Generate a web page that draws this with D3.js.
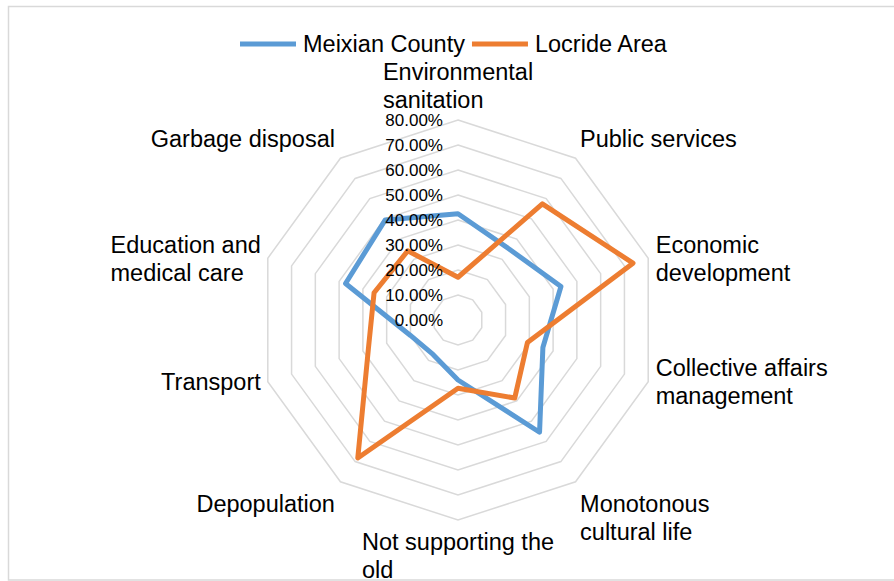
<!DOCTYPE html>
<html>
<head>
<meta charset="utf-8">
<script src="https://cdn.jsdelivr.net/npm/d3@7/dist/d3.min.js"></script>
<style>
  html, body { margin: 0; padding: 0; background: #fff; }
  svg { display: block; font-family: "Liberation Sans", Arial, sans-serif; }
</style>
</head>
<body>
<svg id="chart" width="894" height="581"></svg>
<script>
// Axis categories, clockwise from the top
const categories = [
  "Environmental sanitation",
  "Public services",
  "Economic development",
  "Collective affairs management",
  "Monotonous cultural life",
  "Not supporting the old",
  "Depopulation",
  "Transport",
  "Education and medical care",
  "Garbage disposal"
];

// Line breaks used for the category labels
const categoryLines = [
  ["Environmental", "sanitation"],
  ["Public services"],
  ["Economic", "development"],
  ["Collective affairs", "management"],
  ["Monotonous", "cultural life"],
  ["Not supporting the", "old"],
  ["Depopulation"],
  ["Transport"],
  ["Education and", "medical care"],
  ["Garbage disposal"]
];

const seriesNames = ["Meixian County", "Locride Area"];
const meixianValues = [0.425, 0.35, 0.433, 0.357, 0.555, 0.24, 0.17, 0.20, 0.473, 0.495];
const locrideValues = [0.171, 0.574, 0.736, 0.292, 0.386, 0.273, 0.682, 0.377, 0.353, 0.342];
const tickValues = [0, 0.1, 0.2, 0.3, 0.4, 0.5, 0.6, 0.7, 0.8];
const seriesColors = ["#5B9BD5", "#ED7D31"];

const svg = d3.select("#chart");
const cx = 458, cy = 320;
const r = d3.scaleLinear().domain([0, 0.8]).range([0, 200]);
const n = categories.length;
const angle = d3.scaleLinear().domain([0, n]).range([0, 2 * Math.PI]);
const fmt = d3.format(".2%");

// Outer frame
svg.append("rect")
  .attr("x", 8.5).attr("y", 6.5)
  .attr("width", 900).attr("height", 573.5)
  .attr("fill", "none").attr("stroke", "#d9d9d9").attr("stroke-width", 1.5);

const g = svg.append("g").attr("transform", `translate(${cx},${cy})`);

// Decagonal grid rings
const ring = d3.lineRadial()
  .angle((d, i) => angle(i))
  .radius(d => r(d))
  .curve(d3.curveLinearClosed);

g.selectAll("path.grid")
  .data(tickValues.filter(v => v > 0))
  .join("path")
  .attr("class", "grid")
  .attr("d", v => ring(d3.range(n).map(() => v)))
  .attr("fill", "none")
  .attr("stroke", "#d9d9d9")
  .attr("stroke-width", 1.5);

// Series polygons
const series = [meixianValues, locrideValues];
g.selectAll("path.series")
  .data(series)
  .join("path")
  .attr("class", "series")
  .attr("d", vals => ring(vals))
  .attr("fill", "none")
  .attr("stroke", (d, i) => seriesColors[i])
  .attr("stroke-width", 5)
  .attr("stroke-linejoin", "round");

// Radial tick labels
g.selectAll("text.tick")
  .data(tickValues)
  .join("text")
  .attr("class", "tick")
  .attr("x", -15)
  .attr("y", v => -r(v) + 6)
  .attr("text-anchor", "end")
  .attr("font-size", 17)
  .attr("fill", "#000")
  .text(v => fmt(v));

// Category labels placed just outside the outer ring
const fs = 23.5, lh = 28, rMax = r(0.8);
categories.forEach((cat, i) => {
  const a = angle(i);
  const dx = Math.sin(a), dy = -Math.cos(a);
  const vx = cx + rMax * dx, vy = cy + rMax * dy;
  const lines = categoryLines[i];
  const block = svg.append("g");
  const texts = lines.map((ln, k) =>
    block.append("text")
      .attr("x", 0)
      .attr("y", k * lh + fs * 0.358)
      .attr("font-size", fs)
      .attr("fill", "#000")
      .text(ln));
  const w = d3.max(texts, t => t.node().getComputedTextLength());
  let left;
  if (dx > 0.01) left = vx + (dx > 0.9 ? 7.5 : 4.5);
  else if (dx < -0.01) left = vx - (dx < -0.9 ? 7 : 5.5) - w;
  else left = vx - w / 2;
  let firstCenter;
  const h = (lines.length - 1) * lh;
  if (dy < -0.5) firstCenter = vy - 6 - 14 - h;
  else if (dy > 0.5) firstCenter = vy + 8 + 14;
  else firstCenter = vy - h / 2;
  block.attr("transform", `translate(${left},${firstCenter})`);
});

// Legend
const legend = svg.append("g");
let lx = 240;
const ly = 44;
seriesNames.forEach((name, i) => {
  legend.append("line")
    .attr("x1", lx).attr("x2", lx + 56)
    .attr("y1", ly).attr("y2", ly)
    .attr("stroke", seriesColors[i]).attr("stroke-width", 5);
  const t = legend.append("text")
    .attr("x", lx + 63).attr("y", ly + fs * 0.358)
    .attr("font-size", fs).attr("fill", "#000")
    .text(name);
  lx = lx + 63 + t.node().getComputedTextLength() + 7;
});
</script>
</body>
</html>
